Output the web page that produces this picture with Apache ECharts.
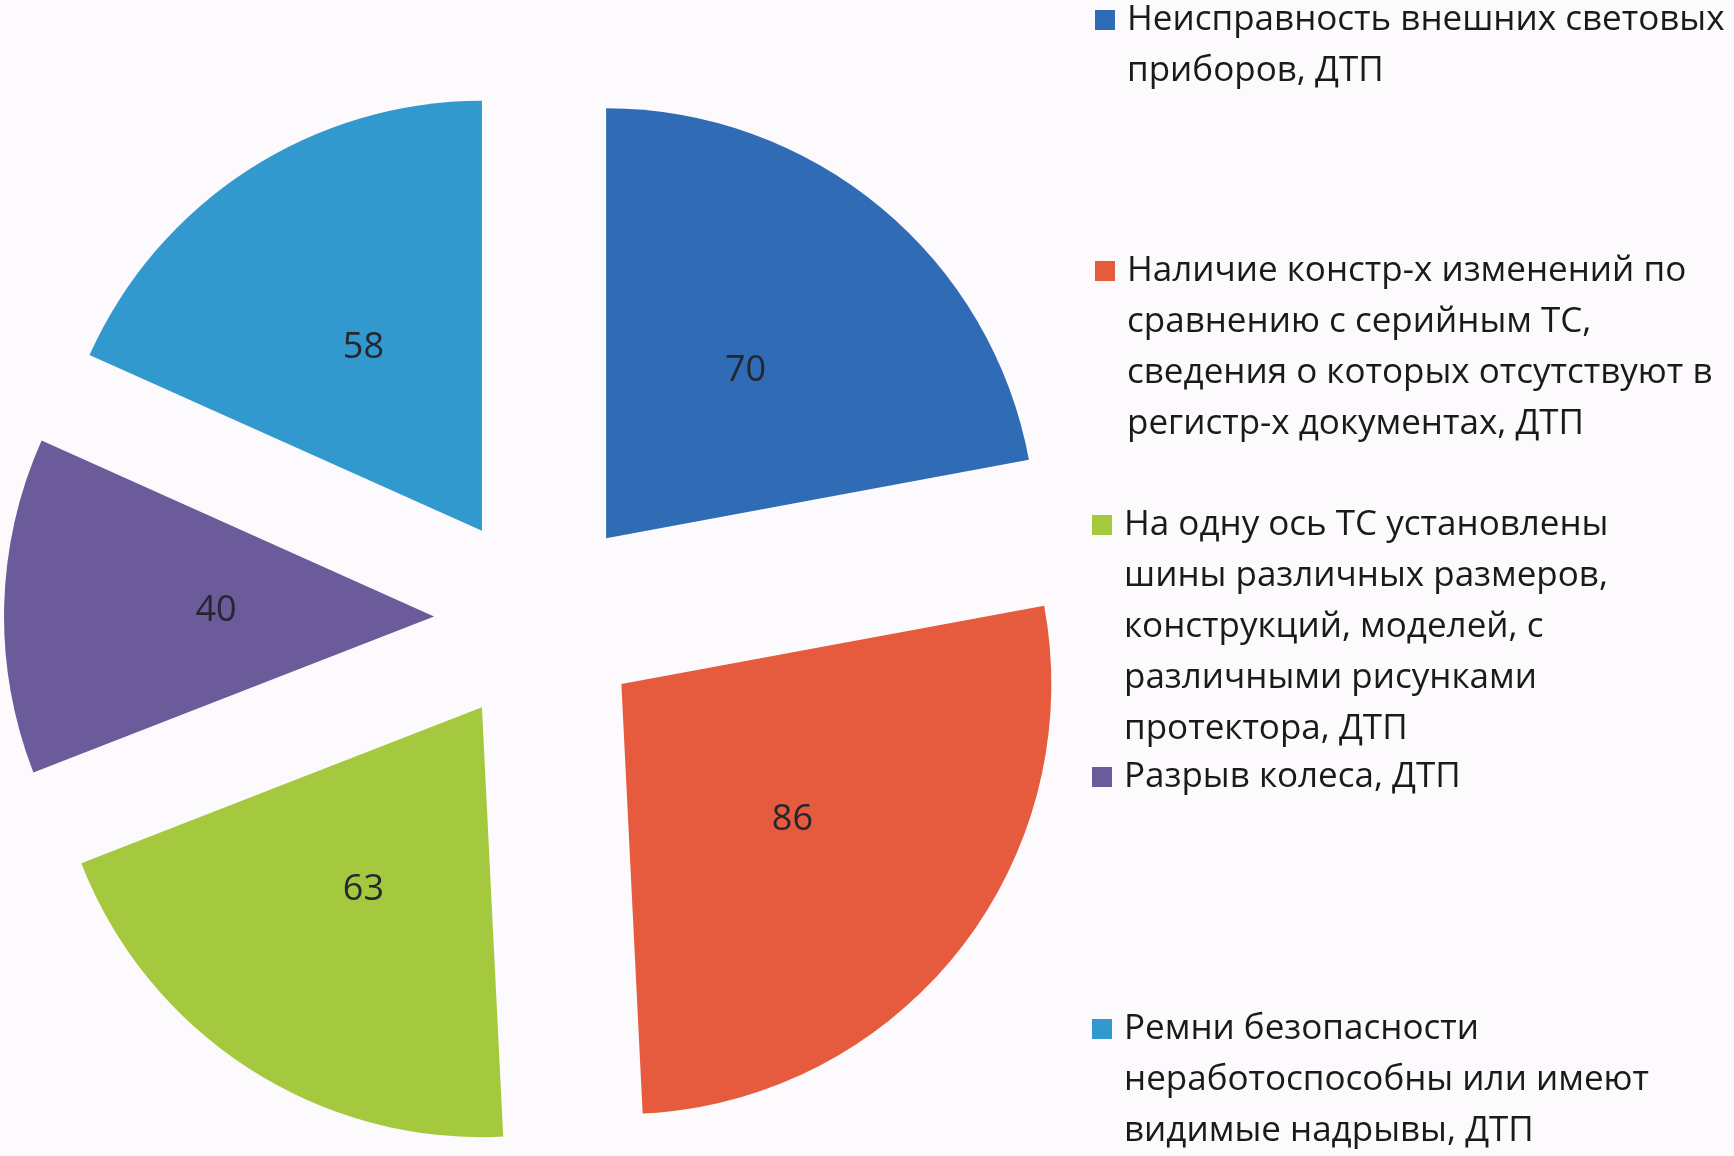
<!DOCTYPE html>
<html>
<head>
<meta charset="utf-8">
<script src="https://cdn.jsdelivr.net/npm/echarts@6/dist/echarts.min.js"></script>
<style>
html,body{margin:0;padding:0;background:#fcfafc;}
#chart{width:1734px;height:1156px;}
</style>
</head>
<body>
<div id="chart"></div>
<script>
const categories = [
  "Неисправность внешних световых\nприборов, ДТП",
  "Наличие констр-х изменений по\nсравнению с серийным ТС,\nсведения о которых отсутствуют в\nрегистр-х документах, ДТП",
  "На одну ось ТС установлены\nшины различных размеров,\nконструкций, моделей, с\nразличными рисунками\nпротектора, ДТП",
  "Разрыв колеса, ДТП",
  "Ремни безопасности\nнеработоспособны или имеют\nвидимые надрывы, ДТП"
];
const values = [70, 86, 63, 40, 58];
const colors = ["#2f6cb5", "#e65a3e", "#a5c93e", "#6b5b9a", "#3299cf"];

const legendFirstLineY = [20, 271, 525, 777, 1029];
const legendLeft = [1095, 1095, 1092, 1092, 1092];
const LH = 51;
const FONT = "Open Sans";

const chart = echarts.init(document.getElementById('chart'));

const legends = categories.map((name, i) => {
  const n = name.split("\n").length;
  return {
    data: [{ name: name, icon: 'rect' }],
    orient: 'vertical',
    left: legendLeft[i],
    top: legendFirstLineY[i] - (n - 0.5) * LH,
    padding: 0,
    itemWidth: 20,
    itemHeight: 20,
    selectedMode: false,
    formatter: (nm) => "\n".repeat(n - 1) + nm,
    textStyle: {
      fontFamily: FONT,
      fontSize: 35,
      color: '#1a1a1a',
      lineHeight: LH,
      padding: [0, 0, 0, 7]
    }
  };
});

chart.setOption({
  animation: false,
  backgroundColor: '#fcfafc',
  color: colors,
  legend: legends,
  series: [{
    type: 'pie',
    center: [539, 619],
    radius: 430,
    startAngle: 90,
    clockwise: true,
    selectedMode: 'multiple',
    selectedOffset: 105,
    emphasis: { disabled: true },
    label: {
      show: true,
      position: 'inside',
      formatter: '{c}',
      fontFamily: FONT,
      fontSize: 36,
      color: '#262630'
    },
    labelLine: { show: false },
    itemStyle: { borderWidth: 0 },
    data: categories.map((name, i) => ({ name: name, value: values[i], selected: true }))
  }]
});
</script>
</body>
</html>
